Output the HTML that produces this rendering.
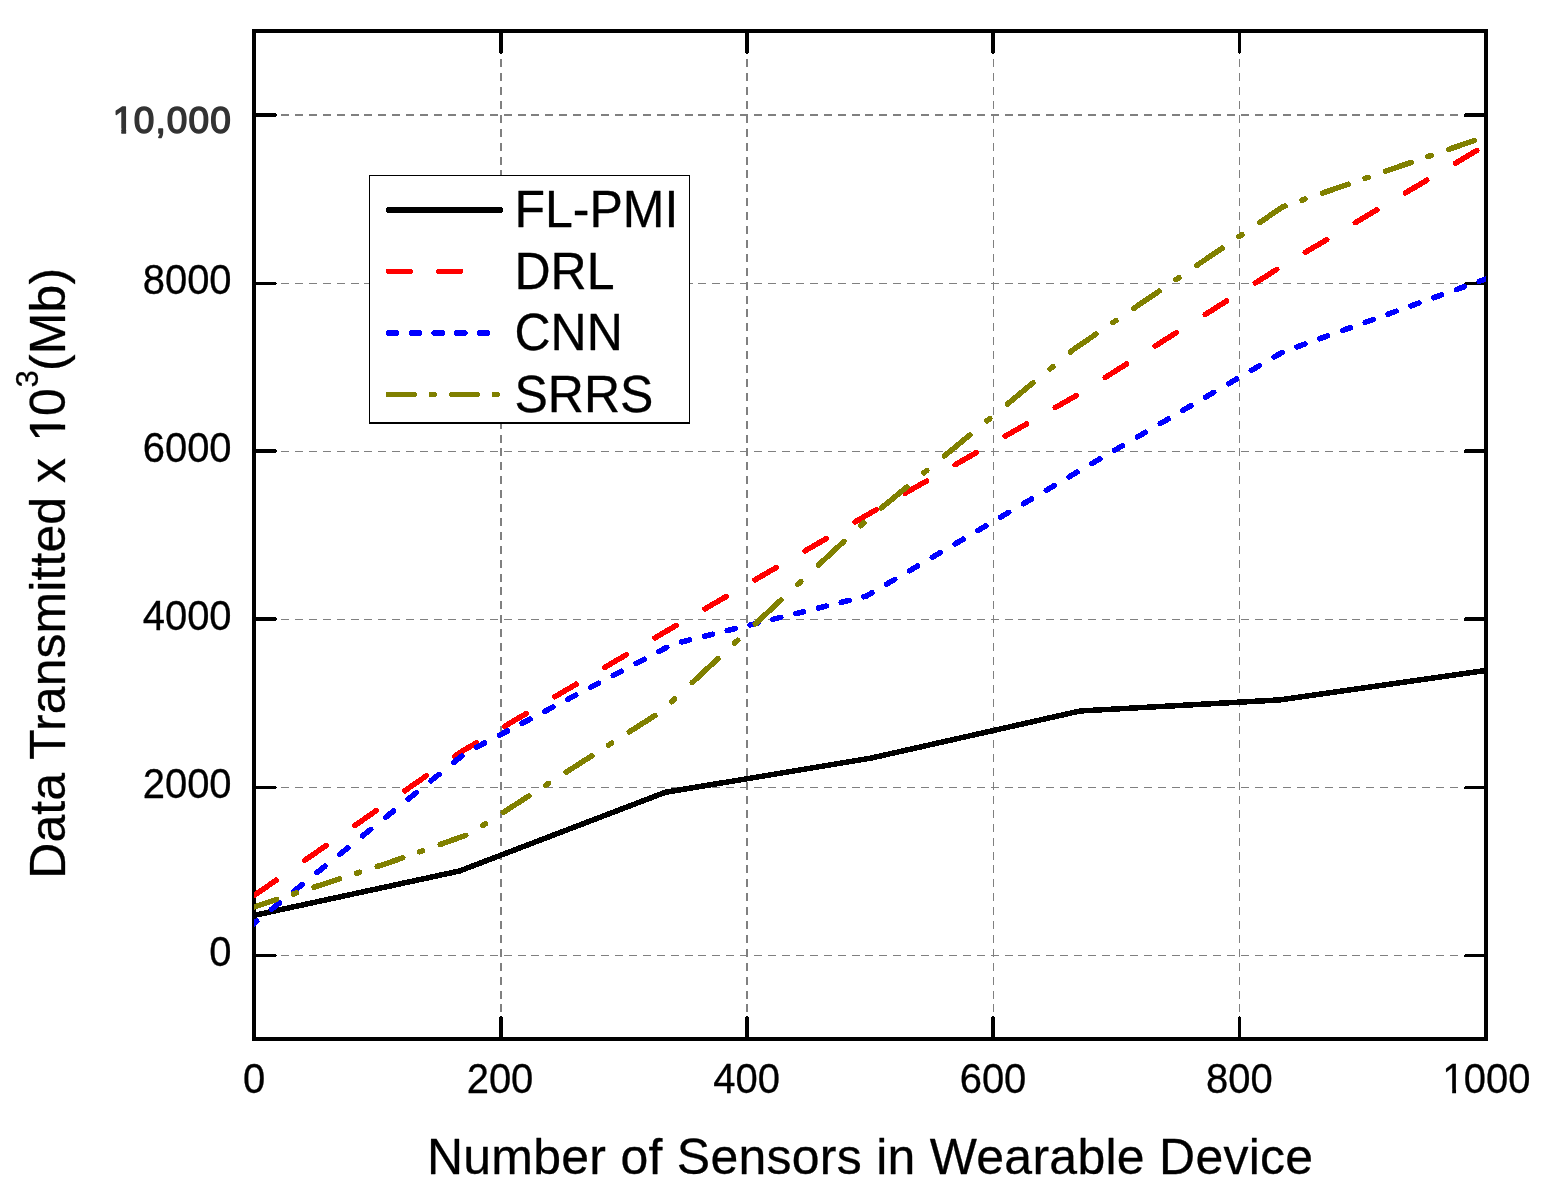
<!DOCTYPE html>
<html lang="en"><head><meta charset="utf-8"><title>Data Transmitted vs Number of Sensors in Wearable Device</title>
<style>html,body{margin:0;padding:0;background:#fff;}body{width:1546px;height:1197px;}svg{display:block;}text{font-family:"Liberation Sans",sans-serif;fill:#000;}</style>
</head><body>
<svg width="1546" height="1197" viewBox="0 0 1546 1197">
<rect x="0" y="0" width="1546" height="1197" fill="#ffffff"/>
<defs><clipPath id="plot"><rect x="254" y="31" width="1232" height="1008"/></clipPath></defs>
<g stroke="#808080" fill="none" shape-rendering="crispEdges">
<line x1="281" y1="115" x2="1460" y2="115" stroke-width="2" stroke-dasharray="8 5.915"/>
<line x1="281" y1="283.5" x2="1460" y2="283.5" stroke-width="1" stroke-dasharray="8 5.915"/>
<line x1="281" y1="451.5" x2="1460" y2="451.5" stroke-width="1" stroke-dasharray="8 5.915"/>
<line x1="281" y1="619.5" x2="1460" y2="619.5" stroke-width="1" stroke-dasharray="8 5.915"/>
<line x1="281" y1="787.5" x2="1460" y2="787.5" stroke-width="1" stroke-dasharray="8 5.915"/>
<line x1="281" y1="955.5" x2="1460" y2="955.5" stroke-width="1" stroke-dasharray="8 5.915"/>
<line x1="501" y1="1012.4" x2="501" y2="58" stroke-width="2" stroke-dasharray="8 5.9"/>
<line x1="747" y1="1012.4" x2="747" y2="58" stroke-width="2" stroke-dasharray="8 5.9"/>
<line x1="993.5" y1="1012.4" x2="993.5" y2="58" stroke-width="1" stroke-dasharray="8 5.9"/>
<line x1="1239.5" y1="1012.4" x2="1239.5" y2="58" stroke-width="1" stroke-dasharray="8 5.9"/>
</g>
<g fill="#000" shape-rendering="crispEdges">
<path fill-rule="evenodd" d="M252 29H1488V1041H252Z M256 33V1037H1484V33Z"/>
<rect x="256" y="113" width="20" height="4"/>
<rect x="276" y="114" width="1" height="2"/>
<rect x="1465" y="113" width="19" height="4"/>
<rect x="1464" y="114" width="1" height="3"/>
<rect x="256" y="282" width="20" height="3"/>
<rect x="276" y="283" width="1" height="1"/>
<rect x="1465" y="282" width="19" height="3"/>
<rect x="1464" y="283" width="1" height="2"/>
<rect x="256" y="449" width="20" height="4"/>
<rect x="276" y="450" width="1" height="2"/>
<rect x="1465" y="449" width="19" height="4"/>
<rect x="1464" y="450" width="1" height="3"/>
<rect x="256" y="617" width="20" height="4"/>
<rect x="276" y="618" width="1" height="2"/>
<rect x="1465" y="617" width="19" height="4"/>
<rect x="1464" y="618" width="1" height="3"/>
<rect x="256" y="786" width="20" height="3"/>
<rect x="276" y="787" width="1" height="1"/>
<rect x="1465" y="786" width="19" height="3"/>
<rect x="1464" y="787" width="1" height="2"/>
<rect x="256" y="954" width="20" height="3"/>
<rect x="276" y="955" width="1" height="1"/>
<rect x="1465" y="954" width="19" height="3"/>
<rect x="1464" y="955" width="1" height="2"/>
<rect x="499" y="33" width="4" height="20"/>
<rect x="500" y="53" width="2" height="1"/>
<rect x="499" y="1017" width="4" height="20"/>
<rect x="500" y="1016" width="2" height="1"/>
<rect x="745" y="33" width="4" height="20"/>
<rect x="746" y="53" width="2" height="1"/>
<rect x="745" y="1017" width="4" height="20"/>
<rect x="746" y="1016" width="2" height="1"/>
<rect x="991" y="33" width="4" height="20"/>
<rect x="992" y="53" width="2" height="1"/>
<rect x="991" y="1017" width="4" height="20"/>
<rect x="992" y="1016" width="2" height="1"/>
<rect x="1238" y="33" width="3" height="20"/>
<rect x="1239" y="53" width="1" height="1"/>
<rect x="1238" y="1017" width="3" height="20"/>
<rect x="1239" y="1016" width="1" height="1"/>
</g>
<g clip-path="url(#plot)" fill="none" stroke-width="5.5" stroke-linecap="round" stroke-linejoin="round" shape-rendering="crispEdges">
<path stroke="#000000" d="M254 915.4 L459.5 871 L665.3 792.3 L870 758.3 L1080 711 L1280 699.9 L1486 670.4"/>
<path stroke="#ff0000" d="M204.67 929.88 L226.07 915.01 M254.7 895.11 L276.1 880.24 M304.73 860.35 L326.13 845.48 M354.76 825.58 L376.16 810.71 M404.79 790.82 L426.19 775.95 M454.82 756.05 L459.5 752.8 L476.22 742.97 M504.85 726.14 L526.25 713.55 M554.88 696.72 L576.28 684.14 M604.91 667.31 L626.31 654.72 M654.94 637.89 L665.3 631.8 L676.34 625.41 M704.97 608.84 L726.37 596.45 M755 579.87 L776.4 567.48 M805.03 550.91 L826.43 538.52 M855.06 521.95 L870 513.3 L876.46 509.61 M905.09 493.28 L926.49 481.06 M955.12 464.72 L976.52 452.51 M1005.15 436.17 L1026.55 423.96 M1055.18 407.62 L1076.58 395.41 M1105.21 377.47 L1126.61 363.99 M1155.24 345.96 L1176.64 332.49 M1205.27 314.46 L1226.67 300.98 M1255.3 282.95 L1276.7 269.48 M1305.33 252.36 L1326.73 239.65 M1355.36 222.64 L1376.76 209.94 M1405.39 192.93 L1426.79 180.22 M1455.42 163.22 L1476.82 150.51 M1505.45 133.51 L1526.85 120.8"/>
<path stroke="#0000ff" d="M225.91 946.03 L233.91 939.58 M248.7 927.67 L254 923.4 L256.7 921.22 M271.49 909.31 L279.49 902.87 M294.27 890.95 L302.27 884.51 M317.06 872.59 L325.06 866.15 M339.85 854.23 L347.85 847.79 M362.63 835.88 L370.63 829.43 M385.42 817.52 L393.42 811.07 M408.21 799.16 L416.21 792.71 M431 780.8 L439 774.35 M453.78 762.44 L461.78 755.99 M476.57 747.19 L484.57 742.99 M499.36 735.23 L507.36 731.03 M522.14 723.27 L530.14 719.08 M544.93 711.31 L552.93 707.12 M567.72 699.36 L575.72 695.16 M590.5 687.4 L598.5 683.2 M613.29 675.44 L621.29 671.24 M636.08 663.48 L644.08 659.28 M658.87 651.52 L666.87 647.32 M681.65 641.91 L689.65 639.93 M704.44 636.26 L712.44 634.28 M727.23 630.62 L735.23 628.64 M750.01 624.98 L758.01 622.99 M772.8 619.33 L780.8 617.35 M795.59 613.69 L803.59 611.71 M818.38 608.04 L826.38 606.06 M841.16 602.4 L849.16 600.42 M863.95 596.76 L866.2 596.2 L871.95 592.82 M886.74 584.12 L894.74 579.42 M909.52 570.72 L917.52 566.02 M932.31 557.32 L940.31 552.61 M955.1 543.92 L963.1 539.21 M977.88 530.52 L985.88 525.81 M1000.67 517.11 L1008.67 512.41 M1023.46 503.71 L1031.46 499.01 M1046.24 490.31 L1054.24 485.61 M1069.03 476.91 L1075 473.4 L1077.03 472.21 M1091.82 463.58 L1099.82 458.9 M1114.61 450.26 L1122.61 445.59 M1137.39 436.95 L1145.39 432.28 M1160.18 423.64 L1168.18 418.97 M1182.97 410.33 L1190.97 405.66 M1205.75 397.02 L1213.75 392.35 M1228.54 383.71 L1236.54 379.04 M1251.33 370.4 L1259.33 365.73 M1274.12 357.09 L1282.12 352.42 M1296.9 346.9 L1304.9 344.02 M1319.69 338.71 L1327.69 335.83 M1342.48 330.51 L1350.48 327.64 M1365.26 322.32 L1373.26 319.44 M1388.05 314.12 L1396.05 311.25 M1410.84 305.93 L1418.84 303.05 M1433.62 297.73 L1441.62 294.86 M1456.41 289.54 L1464.41 286.66 M1479.2 281.35 L1486 278.9 L1487.2 278.47 M1501.98 273.15 L1509.98 270.27 M1524.77 264.96 L1532.77 262.08"/>
<path stroke="#808000" d="M230.47 914.62 L233.47 913.63 M251.1 907.85 L254 906.9 L276.7 899.46 M293.5 893.95 L296.5 892.96 M314.13 887.18 L339.73 878.79 M356.53 873.28 L359.53 872.29 M377.16 866.51 L390 862.3 L402.76 857.76 M419.56 851.79 L422.56 850.72 M440.19 844.45 L465.79 835.34 M482.59 825.53 L485.59 823.61 M503.22 812.36 L528.82 796.02 M545.62 785.3 L548.62 783.39 M566.25 772.13 L591.85 755.8 M608.65 745.07 L611.65 743.16 M629.28 731.91 L654.88 715.57 M671.68 701.75 L674.68 698.95 M692.31 682.54 L717.91 658.7 M734.71 643.06 L737.71 640.26 M755.34 623.85 L780.94 600.01 M797.74 584.37 L800.74 581.57 M818.37 565.16 L843.97 541.32 M860.77 525.67 L863.77 522.88 M881.4 507.95 L907 486.83 M923.8 472.97 L926.8 470.5 M944.43 455.96 L970.03 434.84 M986.83 420.98 L989.83 418.5 M1007.46 403.96 L1033.06 382.84 M1049.86 368.98 L1052.86 366.51 M1070.49 351.97 L1073.6 349.4 L1096.09 334.07 M1112.89 322.61 L1115.89 320.57 M1133.52 308.55 L1159.12 291.09 M1175.92 279.64 L1178.92 277.59 M1196.55 265.57 L1222.15 248.12 M1238.95 236.66 L1241.95 234.62 M1259.58 222.6 L1282.6 206.9 L1285.18 206.01 M1301.98 200.19 L1304.98 199.15 M1322.61 193.04 L1348.21 184.18 M1365.01 178.36 L1368.01 177.32 M1385.64 171.21 L1411.24 162.34 M1428.04 156.53 L1431.04 155.49 M1448.67 149.38 L1474.27 140.51 M1491.07 134.69 L1494.07 133.65 M1511.7 127.55 L1537.3 118.68"/>
</g>
<g shape-rendering="crispEdges">
<rect x="369" y="175" width="321" height="249" fill="#000"/>
<rect x="370" y="176" width="319" height="246" fill="#fff"/>
</g>
<g fill="none" stroke-width="5.5" stroke-linecap="round" shape-rendering="crispEdges">
<path stroke="#000" d="M388.5 210 L500.5 210"/>
<path stroke="#ff0000" d="M388.5 271.4 L410.3 271.4 M438.7 271.4 L460.5 271.4"/>
<path stroke="#0000ff" d="M388.5 333 L396.7 333 M411.25 333 L419.45 333 M434 333 L442.2 333 M456.75 333 L464.95 333 M479.5 333 L487.7 333"/>
<path stroke="#808000" d="M388.5 394.5 L414.3 394.5 M431.6 394.5 L434.4 394.5 M451.8 394.5 L477.4 394.5 M494.6 394.5 L497.4 394.5"/>
</g>
<text transform="translate(514.5 226.8) scale(1 1.04)" text-anchor="start" style="font-size:50px;fill:#000;stroke:#000;stroke-width:0.3;stroke-linejoin:round;">FL-PMI</text>
<text transform="translate(514.5 288.8) scale(1 1.04)" text-anchor="start" style="font-size:50px;fill:#000;stroke:#000;stroke-width:0.3;stroke-linejoin:round;">DRL</text>
<text transform="translate(514.5 350.2) scale(1 1.04)" text-anchor="start" style="font-size:50px;fill:#000;stroke:#000;stroke-width:0.3;stroke-linejoin:round;">CNN</text>
<text transform="translate(514.5 411.6) scale(1 1.04)" text-anchor="start" style="font-size:50px;fill:#000;stroke:#000;stroke-width:0.3;stroke-linejoin:round;">SRRS</text>
<text transform="translate(231.6 965.5) scale(1 1.045)" text-anchor="end" style="font-size:40px;fill:#000;stroke:#000;stroke-width:0.3;stroke-linejoin:round;">0</text>
<text transform="translate(231.6 797.5) scale(1 1.045)" text-anchor="end" style="font-size:40px;fill:#000;stroke:#000;stroke-width:0.3;stroke-linejoin:round;">2000</text>
<text transform="translate(231.6 629.5) scale(1 1.045)" text-anchor="end" style="font-size:40px;fill:#000;stroke:#000;stroke-width:0.3;stroke-linejoin:round;">4000</text>
<text transform="translate(231.6 461.5) scale(1 1.045)" text-anchor="end" style="font-size:40px;fill:#000;stroke:#000;stroke-width:0.3;stroke-linejoin:round;">6000</text>
<text transform="translate(231.6 293.5) scale(1 1.045)" text-anchor="end" style="font-size:40px;fill:#000;stroke:#000;stroke-width:0.3;stroke-linejoin:round;">8000</text>
<clipPath id="c1"><path clip-rule="evenodd" d="M-2000 -200H2000V200H-2000Z M0.62 -4.11H9.35V3H0.62Z M14.12 -4.11H22.57V3H14.12Z"/></clipPath>
<text transform="translate(112 132.75) scale(1 1.005)" text-anchor="start" style="font-size:37px;letter-spacing:1.12px;fill:#333333;stroke:#333333;stroke-width:1.5;stroke-linejoin:round;" dx="0.8 -0.8" clip-path="url(#c1)">10,000</text>
<text transform="translate(254.2 1092.6) scale(1 1.045)" text-anchor="middle" style="font-size:40px;fill:#000;stroke:#000;stroke-width:0.3;stroke-linejoin:round;">0</text>
<text transform="translate(500 1092.6) scale(1 1.045)" text-anchor="middle" style="font-size:40px;fill:#000;stroke:#000;stroke-width:0.3;stroke-linejoin:round;">200</text>
<text transform="translate(746.6 1092.6) scale(1 1.045)" text-anchor="middle" style="font-size:40px;fill:#000;stroke:#000;stroke-width:0.3;stroke-linejoin:round;">400</text>
<text transform="translate(993 1092.6) scale(1 1.045)" text-anchor="middle" style="font-size:40px;fill:#000;stroke:#000;stroke-width:0.3;stroke-linejoin:round;">600</text>
<text transform="translate(1239.4 1092.6) scale(1 1.045)" text-anchor="middle" style="font-size:40px;fill:#000;stroke:#000;stroke-width:0.3;stroke-linejoin:round;">800</text>
<clipPath id="c2"><path clip-rule="evenodd" d="M-2000 -200H2000V200H-2000Z M0.85 -3.74H10.71V3H0.85Z M14.54 -3.74H24.09V3H14.54Z"/></clipPath>
<text transform="translate(1441.5 1092.6) scale(1 1.045)" text-anchor="start" style="font-size:40px;fill:#000;stroke:#000;stroke-width:0.3;stroke-linejoin:round;" dx="0.8 -0.8" clip-path="url(#c2)">1000</text>
<text transform="translate(426.9 1174) scale(1 1.015)" text-anchor="start" style="font-size:50px;letter-spacing:0.266px;fill:#000;stroke:#000;stroke-width:0.3;stroke-linejoin:round;">Number of Sensors in Wearable Device</text>
<clipPath id="c3"><path clip-rule="evenodd" d="M-2000 -200H2000V200H-2000Z M437.62 -4.49H449.24V3H437.62Z M453.96 -4.49H465.18V3H453.96Z"/></clipPath>
<text transform="translate(65.1 878.7) rotate(-90) scale(1 1.005)" text-anchor="start" style="font-size:50px;letter-spacing:0.07px;fill:#000;stroke:#000;stroke-width:0.3;stroke-linejoin:round;" dx="0 0 0 0 0 0 0 0 0 0 0 0 0 0 0 0 0 0 0 2 -2" clip-path="url(#c3)">Data Transmitted x 10<tspan x="491.2" y="-27.06" style="font-size:31px;letter-spacing:0">3</tspan><tspan x="507.6" y="0" style="letter-spacing:0.18px">(Mb)</tspan></text>
</svg>
</body></html>
